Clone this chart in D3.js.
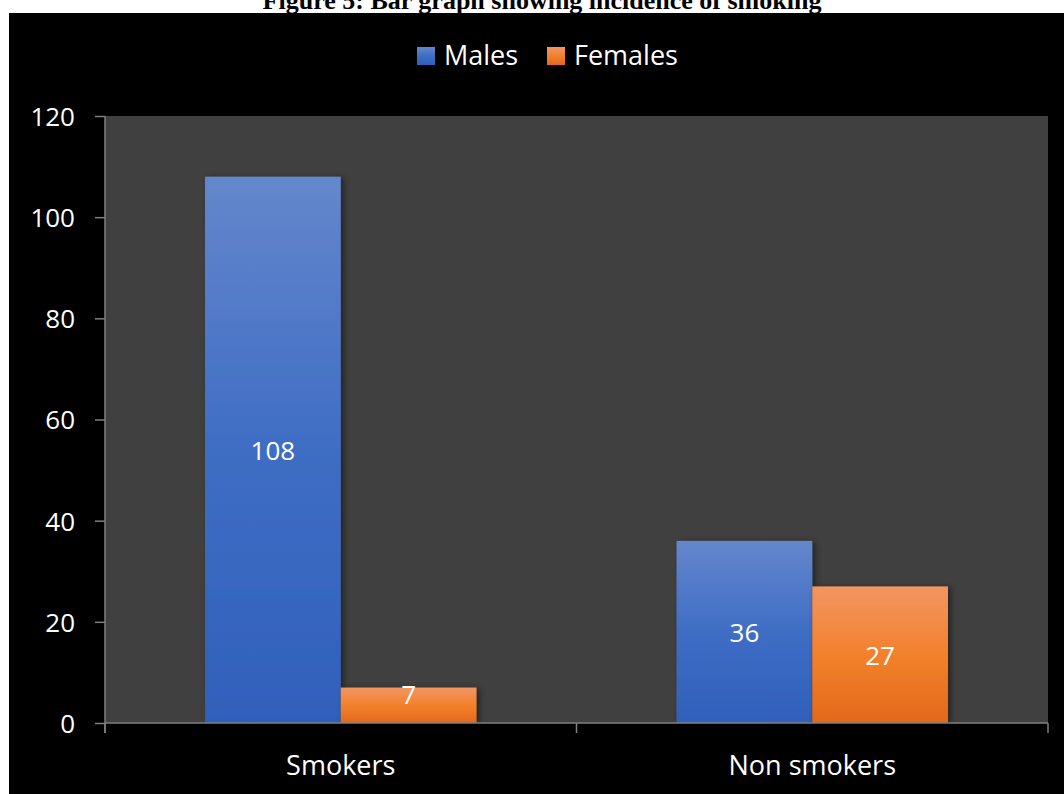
<!DOCTYPE html>
<html>
<head>
<meta charset="utf-8">
<script src="https://cdn.jsdelivr.net/npm/d3@7"></script>
<style>
  html, body { margin: 0; padding: 0; background: #ffffff; }
  svg { display: block; }
</style>
</head>
<body>
<svg id="chart" width="1064" height="794"></svg>
<script>
// Incidence of smoking by sex
const categories = ["Smokers", "Non smokers"];
const seriesNames = ["Males", "Females"];
const males = [108, 36];
const females = [7, 27];
const yTicks = [0, 20, 40, 60, 80, 100, 120];
const titleText = "Figure 5: Bar graph showing incidence of smoking";

const W = 1064, H = 794;
const plot = { left: 105, right: 1048, top: 116, bottom: 723 };
const font = "'Open Sans', 'Liberation Sans', sans-serif";

const svg = d3.select("#chart");
const defs = svg.append("defs");

const grads = [
  { id: "gMale", stops: [["0%", "#6487cc"], ["50%", "#3f6dc4"], ["100%", "#2f60bb"]] },
  { id: "gFemale", stops: [["0%", "#f29562"], ["50%", "#f3812c"], ["100%", "#e2681a"]] }
];
grads.forEach(g => {
  const lg = defs.append("linearGradient").attr("id", g.id)
    .attr("x1", 0).attr("y1", 0).attr("x2", 0).attr("y2", 1);
  g.stops.forEach(s => lg.append("stop").attr("offset", s[0]).attr("stop-color", s[1]));
});
const shadow = defs.append("filter").attr("id", "barShadow")
  .attr("x", "-20%").attr("y", "-20%").attr("width", "140%").attr("height", "140%");
shadow.append("feDropShadow").attr("dx", 3).attr("dy", 1).attr("stdDeviation", 3)
  .attr("flood-color", "#000").attr("flood-opacity", 0.45);

// page title (its upper part runs past the top edge of the page)
svg.append("text")
  .attr("x", 542).attr("y", 9)
  .attr("text-anchor", "middle")
  .attr("font-family", "'Liberation Serif', 'Times New Roman', serif")
  .attr("font-weight", "bold")
  .attr("font-size", 26)
  .attr("fill", "#000")
  .text(titleText);

// chart background
svg.append("rect").attr("x", 9).attr("y", 13).attr("width", W - 9).attr("height", H - 13)
  .attr("fill", "#000");

// plot area
svg.append("rect")
  .attr("x", plot.left).attr("y", plot.top)
  .attr("width", plot.right - plot.left).attr("height", plot.bottom - plot.top)
  .attr("fill", "#404040");

const x0 = d3.scaleBand().domain(categories).range([plot.left, plot.right]).padding(0);
const x1 = d3.scaleBand().domain(seriesNames)
  .range([0, x0.bandwidth()]).paddingInner(0).paddingOuter(0.737);
const y = d3.scaleLinear().domain([0, 120]).range([plot.bottom, plot.top]);

const data = categories.map((c, i) => ({ cat: c, values: [
  { name: "Males", v: males[i], fill: "url(#gMale)" },
  { name: "Females", v: females[i], fill: "url(#gFemale)" }
]}));

const groups = svg.append("g").selectAll("g").data(data).join("g")
  .attr("transform", d => `translate(${x0(d.cat)},0)`);

groups.selectAll("rect").data(d => d.values).join("rect")
  .attr("x", d => x1(d.name))
  .attr("y", d => y(d.v))
  .attr("width", x1.bandwidth())
  .attr("height", d => y(0) - y(d.v))
  .attr("fill", d => d.fill)
  .attr("filter", "url(#barShadow)");

// value labels, centred in the bar but kept clear of the baseline
groups.selectAll("text.val").data(d => d.values).join("text")
  .attr("class", "val")
  .attr("x", d => x1(d.name) + x1.bandwidth() / 2)
  .attr("y", d => Math.min((y(d.v) + y(0)) / 2, y(0) - 29) + 10)
  .attr("text-anchor", "middle")
  .attr("font-family", font).attr("font-size", 26)
  .attr("fill", "#ffffff")
  .text(d => d.v);

// y axis
const yAxis = d3.axisLeft(y).tickValues(yTicks).tickSize(10).tickPadding(20);
const gy = svg.append("g").attr("transform", `translate(${plot.left},0)`).call(yAxis);
gy.select(".domain").remove();
gy.selectAll(".tick line").attr("stroke", "#7f7f7f").attr("stroke-width", 1.5);
gy.selectAll(".tick text")
  .attr("font-family", font).attr("font-size", 26).attr("fill", "#ffffff")
  .attr("dy", "0.36em");
gy.append("line").attr("x1", 0).attr("x2", 0).attr("y1", plot.top).attr("y2", plot.bottom + 10)
  .attr("stroke", "#7f7f7f").attr("stroke-width", 1.5);

// x axis
const gx = svg.append("g").attr("transform", `translate(0,${plot.bottom})`);
gx.append("line").attr("x1", plot.left).attr("x2", plot.right).attr("y1", 0).attr("y2", 0)
  .attr("stroke", "#7f7f7f").attr("stroke-width", 1.5);
const boundaries = [plot.left, ...categories.map(c => x0(c) + x0.bandwidth())];
gx.selectAll("line.tk").data(boundaries).join("line").attr("class", "tk")
  .attr("x1", d => d).attr("x2", d => d).attr("y1", 0).attr("y2", 10)
  .attr("stroke", "#7f7f7f").attr("stroke-width", 1.5);
gx.selectAll("text").data(categories).join("text")
  .attr("x", d => x0(d) + x0.bandwidth() / 2)
  .attr("y", 52)
  .attr("text-anchor", "middle")
  .attr("font-family", font).attr("font-size", 27).attr("fill", "#ffffff")
  .text(d => d);

// legend
const legend = svg.append("g");
const legendItems = [
  { name: "Males", fill: "url(#gMale)", x: 417 },
  { name: "Females", fill: "url(#gFemale)", x: 547 }
];
legendItems.forEach(it => {
  legend.append("rect").attr("x", it.x).attr("y", 47).attr("width", 18).attr("height", 18)
    .attr("fill", it.fill);
  legend.append("text").attr("x", it.x + 27).attr("y", 65)
    .attr("font-family", font).attr("font-size", 27).attr("fill", "#ffffff")
    .text(it.name);
});
</script>
</body>
</html>
